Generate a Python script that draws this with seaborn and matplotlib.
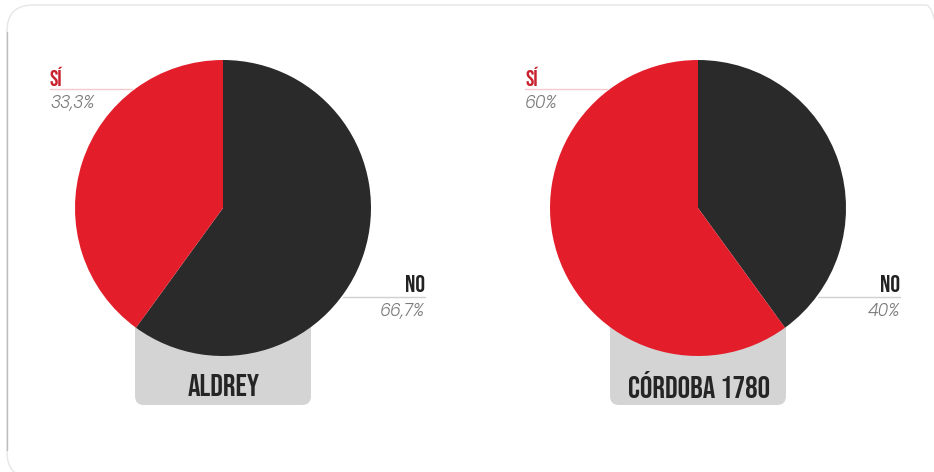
import matplotlib
matplotlib.use("Agg")
import matplotlib.pyplot as plt
import seaborn as sns
from matplotlib.patches import FancyBboxPatch

# ---- data ----
candidates = ["ALDREY", "CÓRDOBA 1780"]
answers = ["NO", "SÍ"]
slice_aldrey = [60, 40]        # wedge sizes as drawn (black NO, red SÍ)
slice_cordoba = [40, 60]
pct_aldrey = ["66,7%", "33,3%"]
pct_cordoba = ["40%", "60%"]

sns.set_theme(style="white")
W, H = 934, 472
fig = plt.figure(figsize=(W / 100, H / 100), dpi=100)
ax = fig.add_axes([0, 0, 1, 1])
ax.set_xlim(0, W)
ax.set_ylim(0, H)
ax.set_aspect("equal")
ax.axis("off")

RED = "#e31e2a"
BLACK = "#2a2a2a"
BOXG = "#d4d4d4"
colors = [BLACK, RED]

cond = ["Bebas Neue", "Oswald", "Open Sans", "DejaVu Sans"]
thin = ["Poppins", "Lato", "DejaVu Sans"]

def py(y):
    return H - y

# outer frame (right and bottom edges fall just outside the canvas)
frame = FancyBboxPatch((7, py(478)), 945, 473, boxstyle="round,pad=0,rounding_size=26",
                       fc="none", ec="#e6e6e6", lw=1.0, zorder=0)
ax.add_patch(frame)
ax.plot([7, 7], [py(32), py(450)], color="#bdbdbd", lw=1.0, zorder=0)

centers = [223, 698]
slices = [slice_aldrey, slice_cordoba]
pcts = [pct_aldrey, pct_cordoba]
R = 148
for i, cx in enumerate(centers):
    cy = py(208)
    box = FancyBboxPatch((cx - 88, py(405)), 176, 90, boxstyle="round,pad=0,rounding_size=9",
                         fc=BOXG, ec="none", zorder=1)
    ax.add_patch(box)
    ax.text(cx + 1, py(385), candidates[i], ha="center", va="center", fontsize=22.5,
            family=cond, color="#252525", zorder=2)
    wedges, _ = ax.pie(slices[i], colors=colors, startangle=90, counterclock=False,
                       center=(cx, cy), radius=R, frame=True,
                       wedgeprops=dict(linewidth=0))
    for w in wedges:
        w.set_zorder(3)
    lx = cx - 173
    ax.text(lx, py(76), answers[1], ha="left", va="center", fontsize=16,
            family=cond, color="#c9202e", zorder=4)
    ax.plot([lx, lx + 82], [py(89), py(89)], color="#f2c9cd", lw=1, zorder=2)
    ax.text(lx, py(104), pcts[i][1], ha="left", va="center", fontsize=12.5,
            style="italic", fontweight=300, family=thin, color="#7a7a7a", zorder=4)
    rx = cx + 202
    ax.text(rx, py(283), answers[0], ha="right", va="center", fontsize=17.5,
            family=cond, color="#222222", zorder=4)
    ax.plot([rx - 82, rx], [py(297), py(297)], color="#d0d0d0", lw=1, zorder=2)
    ax.text(rx, py(312), pcts[i][0], ha="right", va="center", fontsize=12.5,
            style="italic", fontweight=300, family=thin, color="#7a7a7a", zorder=4)

ax.set_xlim(0, W)
ax.set_ylim(0, H)
ax.axis("off")
fig.savefig("out.png", dpi=100, facecolor="white")
